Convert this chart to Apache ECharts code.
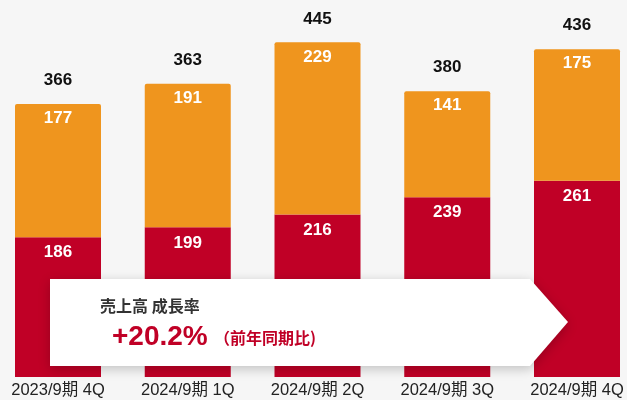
<!DOCTYPE html>
<html>
<head>
<meta charset="utf-8">
<script src="https://cdn.jsdelivr.net/npm/echarts@6/dist/echarts.min.js"></script>
<style>
  html, body { margin: 0; padding: 0; background: #f6f6f6; }
  #main { width: 627px; height: 400px; }
</style>
</head>
<body>
<div id="main"></div>
<script>
// 期間
const categories = ['2023/9期 4Q', '2024/9期 1Q', '2024/9期 2Q', '2024/9期 3Q', '2024/9期 4Q'];
// 下段（赤）
const redValues = [186, 199, 216, 239, 261];
// 上段（オレンジ）
const orangeValues = [177, 191, 229, 141, 175];
// 合計ラベル（資料の表記どおり）
const totalLabels = [366, 363, 445, 380, 436];

const stackTops = redValues.map((v, i) => v + orangeValues[i]);

const font = '"Liberation Sans", Arial, "Noto Sans CJK JP", sans-serif';

var dom = document.getElementById('main');
var myChart = echarts.init(dom, null, { renderer: 'canvas' });

var option = {
  backgroundColor: '#f6f6f6',
  animation: false,
  grid: { left: 58, right: 50, top: 1, bottom: 23 },
  xAxis: {
    type: 'category',
    data: categories,
    boundaryGap: false,
    axisLine: { show: false },
    axisTick: { show: false },
    splitLine: { show: false },
    axisLabel: { color: '#222', fontSize: 16.5, fontFamily: font, margin: 5 }
  },
  yAxis: {
    type: 'value',
    min: 0,
    max: 500,
    show: false,
    splitLine: { show: false }
  },
  series: [
    {
      type: 'bar',
      stack: 'sales',
      barWidth: 86,
      clip: false,
      data: redValues,
      itemStyle: { color: '#c00026' },
      label: {
        show: true, position: 'insideTop', distance: 7,
        color: '#fff', fontSize: 17, fontWeight: 'bold', fontFamily: font
      }
    },
    {
      type: 'bar',
      stack: 'sales',
      barWidth: 86,
      clip: false,
      data: orangeValues,
      itemStyle: { color: '#ef951e', borderRadius: [2, 2, 0, 0] },
      label: {
        show: true, position: 'insideTop', distance: 6,
        color: '#fff', fontSize: 17, fontWeight: 'bold', fontFamily: font
      }
    },
    {
      // 合計表示用（透明）
      type: 'bar',
      barWidth: 86,
      barGap: '-100%',
      clip: false,
      data: stackTops,
      z: 1,
      itemStyle: { color: 'rgba(0,0,0,0)' },
      silent: true,
      label: {
        show: true, position: 'top', distance: 15,
        color: '#111', fontSize: 17, fontWeight: 'bold', fontFamily: font,
        formatter: (p) => totalLabels[p.dataIndex]
      }
    }
  ],
  graphic: [
    {
      type: 'polygon',
      z: 100,
      shape: { points: [[50, 279], [530, 279], [568, 322], [530, 366], [50, 366]] },
      style: {
        fill: '#fff',
        shadowBlur: 12,
        shadowColor: 'rgba(0,0,0,0.22)',
        shadowOffsetY: 3
      }
    },
    {
      type: 'text',
      z: 101,
      left: 100,
      top: 298,
      style: {
        text: '売上高 成長率',
        fill: '#333',
        font: 'bold 16px "Noto Sans CJK JP", sans-serif'
      }
    },
    {
      type: 'text',
      z: 101,
      left: 112,
      top: 323,
      style: {
        text: '+20.2%',
        fill: '#c00026',
        font: 'bold 28px "Liberation Sans", Arial, sans-serif'
      }
    },
    {
      type: 'text',
      z: 101,
      left: 214,
      top: 330,
      style: {
        text: '（前年同期比)',
        fill: '#c00026',
        font: 'bold 16px "Noto Sans CJK JP", sans-serif'
      }
    }
  ]
};

if (option && typeof option === 'object') {
  myChart.setOption(option);
}
</script>
</body>
</html>
